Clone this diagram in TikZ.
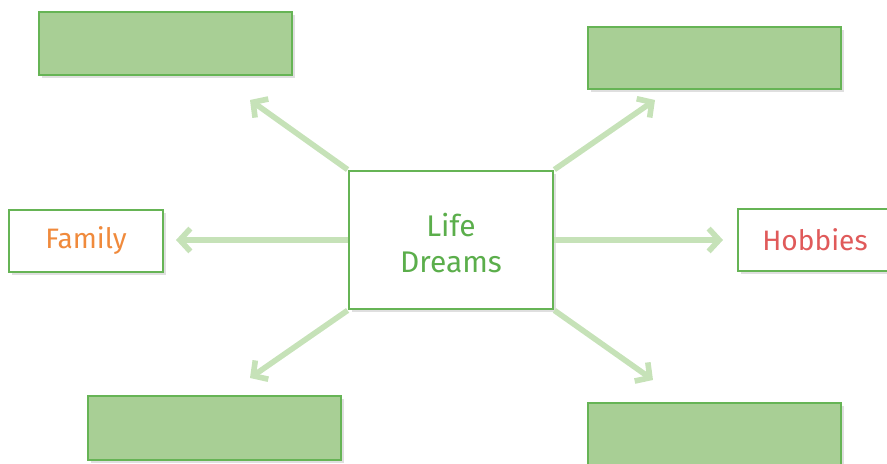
\documentclass[tikz,border=0pt]{standalone}
\usepackage{fontspec}
\setmainfont{Fira Sans}
\usetikzlibrary{arrows.meta,shadows}

\definecolor{boxfill}{HTML}{A8CF95}
\definecolor{boxline}{HTML}{66B455}
\definecolor{armline}{HTML}{C6E2B8}
\definecolor{lifetext}{HTML}{5BAE4B}
\definecolor{familytext}{HTML}{F08A3C}
\definecolor{hobbytext}{HTML}{E05A5A}

\tikzset{
  blank/.style={draw=boxline, line width=1.6pt, fill=boxfill, minimum width=5.06cm,
    minimum height=1.26cm, inner sep=0pt,
    drop shadow={opacity=0.25, shadow xshift=1.5pt, shadow yshift=-1.5pt}},
  label box/.style={draw=boxline, line width=1.6pt, fill=white, minimum width=3.08cm,
    minimum height=1.24cm, inner sep=0pt, font=\fontsize{16}{19}\selectfont,
    drop shadow={opacity=0.25, shadow xshift=1.5pt, shadow yshift=-1.5pt}},
  arm/.style={draw=armline, line width=3.2pt,
    -{Straight Barb[length=6pt, width=13pt]}}
}

\begin{document}
\begin{tikzpicture}
\def\W{17.74};
\def\H{9.28};
\useasboundingbox (0, 0) rectangle (\W, \H);

% centre
\node[draw=boxline, line width=1.6pt, fill=white, minimum width=4.08cm, minimum height=2.76cm,
  align=center, text=lifetext, font=\fontsize{17}{20}\selectfont,
  drop shadow={opacity=0.25, shadow xshift=1.5pt, shadow yshift=-1.5pt}]
  (life) at (9.02, 4.48) {};
\node[align=center, text=lifetext, font=\fontsize{17}{20}\selectfont]
  (lifetxt) at ([yshift=-0.06cm]life.center) {Life\\Dreams};

% the six boxes round it
\node[blank] (topleft) at (3.31, 8.41) {};
\node[blank, minimum height=1.24cm] (topright) at (14.29, 8.12) {};
\node[label box, text=familytext] (family) at (1.72, 4.46) {Family};
\node[label box, text=hobbytext] (hobbies) at (16.3, 4.48) {Hobbies};
\node[blank, minimum height=1.28cm] (botleft) at (4.29, 0.72) {};
\node[blank, minimum height=1.28cm] (botright) at (14.29, 0.58) {};

% arrow ends
\coordinate (tl) at (5.0, 7.28);
\coordinate (tr) at (13.1, 7.28);
\coordinate (l) at (3.52, 4.48);
\coordinate (r) at (14.46, 4.48);
\coordinate (bl) at (5.0, 1.72);
\coordinate (br) at (13.06, 1.68);

\draw[arm] (life.north west) -- (tl);
\draw[arm] (life.north east) -- (tr);
\draw[arm] (life.west) -- (l);
\draw[arm] (life.east) -- (r);
\draw[arm] (life.south west) -- (bl);
\draw[arm] (life.south east) -- (br);

\end{tikzpicture}
\end{document}
